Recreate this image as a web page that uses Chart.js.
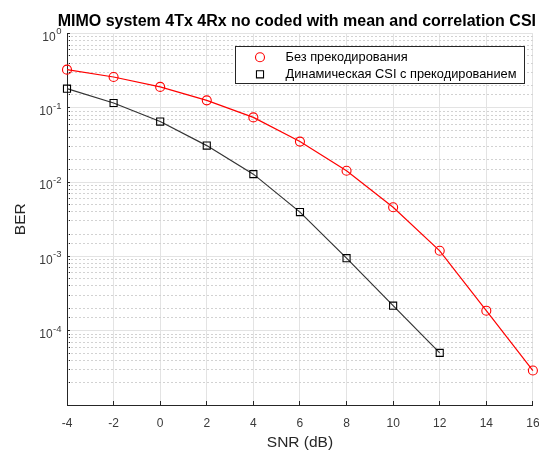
<!DOCTYPE html>
<html>
<head>
<meta charset="utf-8">
<script src="https://cdn.jsdelivr.net/npm/chart.js@4.4.1/dist/chart.umd.min.js"></script>
<style>
  html, body { margin: 0; padding: 0; background: #fff; }
  #wrap { width: 539px; height: 450px; }
</style>
</head>
<body>
<div id="wrap"><canvas id="c" width="539" height="450"></canvas></div>
<script>
// ---- data ----
const snrNoPrecoding = [-4, -2, 0, 2, 4, 6, 8, 10, 12, 14, 16];
const berNoPrecoding = [0.326, 0.260, 0.191, 0.126, 0.0743, 0.0351, 0.0142, 0.00458, 0.00119, 0.000186, 0.0000291];
const snrDynamicCsi = [-4, -2, 0, 2, 4, 6, 8, 10, 12];
const berDynamicCsi = [0.181, 0.116, 0.0653, 0.0310, 0.0128, 0.00395, 0.000946, 0.000217, 0.0000503];
const xTickValues = [-4, -2, 0, 2, 4, 6, 8, 10, 12, 14, 16];
const yTickExponents = [0, -1, -2, -3, -4];
const seriesLabels = ['Без прекодирования', 'Динамическая CSI с прекодированием'];
const chartTitle = 'MIMO system 4Tx 4Rx no coded with mean and correlation CSI';
const xTitle = 'SNR (dB)';
const yTitle = 'BER';

const FONT = '"Liberation Sans", Arial, Helvetica, sans-serif';
const isDecade = v => Math.abs(Math.log10(v) - Math.round(Math.log10(v))) < 1e-6;

const toXY = (xs, ys) => xs.map((x, i) => ({x: x, y: ys[i]}));

const yLabelPlugin = {
  id: 'yLabels',
  afterDraw(chart) {
    const ctx = chart.ctx;
    const sc = chart.scales.y;
    ctx.save();
    ctx.fillStyle = '#3a3a3a';
    ctx.textBaseline = 'middle';
    yTickExponents.forEach(e => {
      const py = sc.getPixelForValue(Math.pow(10, e));
      const base = '10';
      const sup = String(e);
      ctx.font = '12px ' + FONT;
      const wb = ctx.measureText(base).width;
      ctx.font = '9.5px ' + FONT;
      const ws = ctx.measureText(sup).width;
      const right = 61.5;
      const x0 = right - ws - wb - 0.5;
      ctx.font = '12px ' + FONT;
      ctx.textAlign = 'left';
      ctx.fillText(base, x0, py + 4);
      ctx.font = '9.5px ' + FONT;
      ctx.fillText(sup, x0 + wb + 0.5, py - 1.8);
    });
    ctx.restore();
  }
};

const legendPlugin = {
  id: 'boxLegend',
  afterDraw(chart) {
    const ctx = chart.ctx;
    const bx = 235.5, by = 46.5, bw = 289, bh = 37;
    ctx.save();
    ctx.fillStyle = '#ffffff';
    ctx.fillRect(bx, by, bw, bh);
    ctx.strokeStyle = '#262626';
    ctx.lineWidth = 1;
    ctx.strokeRect(bx, by, bw, bh);
    const rows = [57.3, 74.3];
    chart.data.datasets.forEach((ds, i) => {
      const y = rows[i];
      ctx.strokeStyle = ds.pointBorderColor;
      ctx.lineWidth = ds.pointBorderWidth;
      ctx.beginPath();
      if (ds.pointStyle === 'circle') {
        ctx.arc(260, y, ds.pointRadius, 0, Math.PI * 2);
      } else {
        const s = Math.SQRT1_2 * ds.pointRadius;
        ctx.rect(260 - s, y - s, 2 * s, 2 * s);
      }
      ctx.stroke();
      ctx.fillStyle = '#000000';
      ctx.font = '12.8px ' + FONT;
      ctx.textAlign = 'left';
      ctx.textBaseline = 'middle';
      ctx.fillText(ds.label, 285.5, y + 0.5);
    });
    ctx.restore();
  }
};

new Chart(document.getElementById('c'), {
  type: 'line',
  data: {
    datasets: [
      {
        label: seriesLabels[0],
        data: toXY(snrNoPrecoding, berNoPrecoding),
        borderColor: '#ff0000',
        borderWidth: 1.2,
        pointStyle: 'circle',
        pointRadius: 4.5,
        pointBorderColor: '#ff0000',
        pointBorderWidth: 1.1,
        pointBackgroundColor: 'rgba(0,0,0,0)',
        fill: false,
        tension: 0,
        clip: false
      },
      {
        label: seriesLabels[1],
        data: toXY(snrDynamicCsi, berDynamicCsi),
        borderColor: '#333333',
        borderWidth: 1.2,
        pointStyle: 'rect',
        pointRadius: 5,
        pointBorderColor: '#000000',
        pointBorderWidth: 1.1,
        pointBackgroundColor: 'rgba(0,0,0,0)',
        fill: false,
        tension: 0,
        clip: false
      }
    ]
  },
  options: {
    responsive: false,
    animation: false,
    devicePixelRatio: 1,
    layout: { padding: { left: 0, right: 3, top: 0, bottom: 0 } },
    plugins: {
      legend: { display: false },
      tooltip: { enabled: false },
      title: {
        display: true,
        text: chartTitle,
        align: 'end',
        color: '#000000',
        font: { family: FONT, size: 16, weight: 'bold', lineHeight: 1.2 },
        padding: { top: 11.5, bottom: 2.8 }
      }
    },
    scales: {
      x: {
        type: 'linear',
        min: -4,
        max: 16,
        afterBuildTicks: sc => { sc.ticks = xTickValues.map(v => ({value: v})); },
        ticks: {
          color: '#3a3a3a',
          font: { family: FONT, size: 12 },
          padding: 15,
          maxRotation: 0,
          autoSkip: false
        },
        grid: {
          color: '#e3e3e3',
          lineWidth: 1,
          tickLength: -4,
          tickColor: '#262626',
          drawTicks: true
        },
        border: { display: true, color: '#262626', width: 1 },
        title: {
          display: true,
          text: xTitle,
          color: '#262626',
          font: { family: FONT, size: 15.5 },
          padding: { top: 0, bottom: -2 }
        },
        afterFit: sc => { sc.height = 45; sc.paddingLeft = 0; sc.paddingRight = 0; }
      },
      y: {
        type: 'logarithmic',
        position: 'left',
        min: 1e-5,
        max: 1,
        ticks: { display: false, autoSkip: false },
        grid: {
          color: ctx => (ctx.tick && isDecade(ctx.tick.value)) ? '#e3e3e3' : 'rgba(0,0,0,0)',
          lineWidth: 1,
          tickLength: -3,
          tickColor: '#262626',
          drawTicks: true
        },
        border: { display: true, color: '#262626', width: 1 },
        title: {
          display: true,
          text: yTitle,
          color: '#262626',
          font: { family: FONT, size: 15.5 },
          padding: { top: 11.5, bottom: 0 }
        },
        afterFit: sc => { sc.width = 67; sc.paddingTop = 0; sc.paddingBottom = 0; }
      },
      yMinor: {
        type: 'logarithmic',
        position: 'left',
        min: 1e-5,
        max: 1,
        ticks: { display: false, autoSkip: false },
        grid: {
          color: ctx => (ctx.tick && !isDecade(ctx.tick.value)) ? '#d2d2d2' : 'rgba(0,0,0,0)',
          lineWidth: 1,
          drawTicks: false
        },
        border: { display: false, dash: [2, 2] },
        afterFit: sc => { sc.width = 0; sc.paddingTop = 0; sc.paddingBottom = 0; }
      }
    }
  },
  plugins: [yLabelPlugin, legendPlugin]
});
</script>
</body>
</html>
